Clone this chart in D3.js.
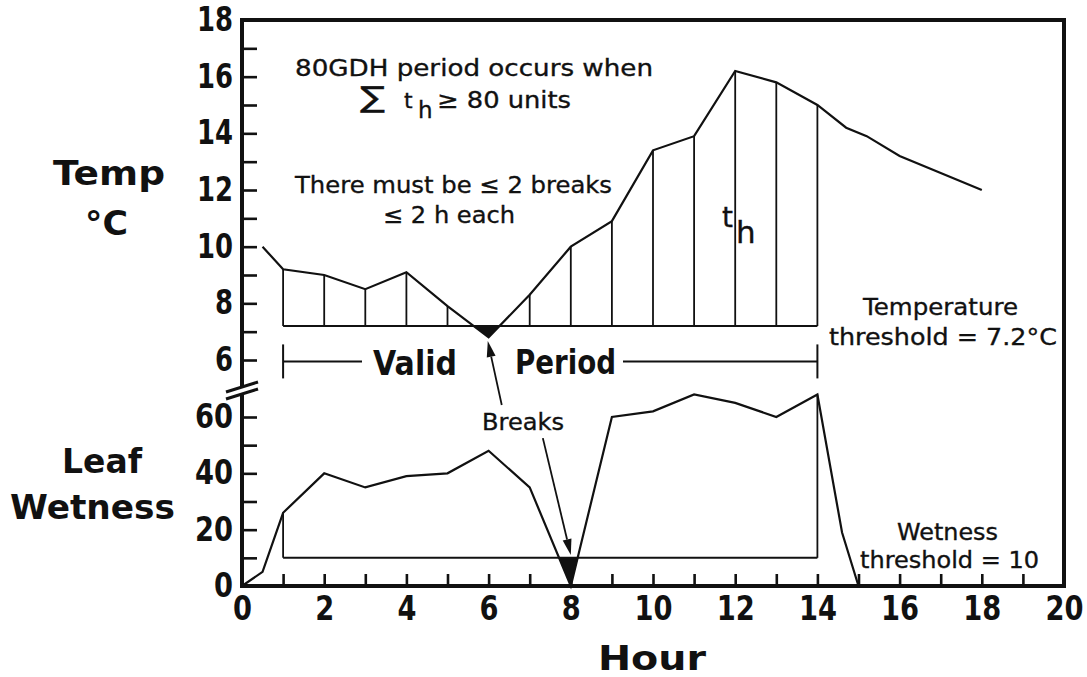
<!doctype html>
<html lang="en">
<head>
<meta charset="utf-8">
<title>80GDH period</title>
<style type="text/css">
	body { margin: 0; background-color: white; }
	svg { display: block; background-color: white; }
	text { font-family: "DejaVu Sans", Helvetica, Arial, sans-serif; fill: #111; }
	.note { font-size: 23px; stroke: #111; stroke-width: 0.35px; }
	.big { font-size: 33px; font-weight: bold; }
	.tick text {
		font-family: "Liberation Sans Narrow", "DejaVu Sans Condensed", "DejaVu Sans", sans-serif;
		font-weight: bold;
		font-size: 33px;
	}
	.tick line { stroke: #111; stroke-width: 2.6px; }
	.frame { fill: none; stroke: #111; stroke-width: 4px; }
	.curve { fill: none; stroke: #111; stroke-width: 2.2px; stroke-linejoin: miter; }
	.thresh { stroke: #111; stroke-width: 2px; }
	.drop { stroke: #111; stroke-width: 1.8px; }
	.below { fill: #111; stroke: none; }
	.bracket { stroke: #111; stroke-width: 2px; }
	.arrow { stroke: #111; stroke-width: 1.8px; }
</style>
</head>
<body>
<script src="https://cdnjs.cloudflare.com/ajax/libs/d3/7.8.5/d3.min.js"></script>
<script type="text/javascript">
// values
var tempHours = [0.5, 1, 2, 3, 4, 5, 6, 7, 8, 9, 10, 11, 12, 13, 14, 14.7, 15.2, 16, 17, 18];
var tempValues = [10.0, 9.2, 9.0, 8.5, 9.1, 7.9, 6.8, 8.3, 10.0, 10.9, 13.4, 13.9, 16.2, 15.8, 15.0, 14.2, 13.9, 13.2, 12.6, 12.0];
var wetHours = [0, 0.5, 1, 2, 3, 4, 5, 6, 7, 8, 9, 10, 11, 12, 13, 14, 14.6, 15];
var wetValues = [0, 5, 26, 40, 35, 39, 40, 48, 35, 0, 60, 62, 68, 65, 60, 68, 19, 0];
var hourTicks = [0, 2, 4, 6, 8, 10, 12, 14, 16, 18, 20];
var tempTicks = [6, 8, 10, 12, 14, 16, 18];
var wetTicks = [0, 20, 40, 60];
var tempThreshold = 7.2;
var wetThreshold = 10;
var periodStart = 1, periodEnd = 14;

var fullwidth = 1087, fullheight = 677;
var plotLeft = 242, plotRight = 1064, plotTop = 20, plotBottom = 586;

var xScale = d3.scaleLinear().domain([0, 20]).range([plotLeft, plotRight]);
var yTemp = d3.scaleLinear().domain([6, 18]).range([360, plotTop]);
var yWet = d3.scaleLinear().domain([0, 60]).range([plotBottom, 417]);

var tempData = tempHours.map(function(h, i) { return { h: h, v: tempValues[i] }; });
var wetData = wetHours.map(function(h, i) { return { h: h, v: wetValues[i] }; });

var svg = d3.select("body").append("svg")
	.attr("width", fullwidth)
	.attr("height", fullheight);

function noDomain(g) { g.select(".domain").remove(); }
// narrow, condensed-looking digits like the printed figure
function narrow(per) {
	return function(g) {
		g.selectAll(".tick text")
			.attr("textLength", function(d) { return String(d).length * per; })
			.attr("lengthAdjust", "spacingAndGlyphs");
	};
}

// ---- axes (labels and inward ticks)
svg.append("g").attr("transform", "translate(0," + plotBottom + ")")
	.call(d3.axisBottom(xScale).tickValues(hourTicks).tickSize(0).tickPadding(11))
	.call(noDomain).call(narrow(19));
svg.append("g").attr("transform", "translate(0," + plotBottom + ")")
	.call(d3.axisBottom(xScale).tickValues(d3.range(1, 20)).tickSize(-12).tickFormat("")).call(noDomain);

svg.append("g").attr("transform", "translate(" + plotLeft + ",0)")
	.call(d3.axisLeft(yTemp).tickValues(tempTicks).tickSize(0).tickPadding(9))
	.call(noDomain).call(narrow(18));
svg.append("g").attr("transform", "translate(" + plotLeft + ",0)")
	.call(d3.axisLeft(yTemp).tickValues(d3.range(6, 18)).tickSize(-15).tickFormat("")).call(noDomain);

svg.append("g").attr("transform", "translate(" + plotLeft + ",0)")
	.call(d3.axisLeft(yWet).tickValues(wetTicks).tickSize(0).tickPadding(9))
	.call(noDomain).call(narrow(19));
svg.append("g").attr("transform", "translate(" + plotLeft + ",0)")
	.call(d3.axisLeft(yWet).tickValues([10, 20, 30, 40, 50, 60]).tickSize(-15).tickFormat("")).call(noDomain);

// ---- frame with axis break
svg.append("path").attr("class", "frame")
	.attr("d", "M" + plotLeft + ",387V" + plotTop + "H" + plotRight + "V" + plotBottom + "H" + plotLeft + "V394");
svg.append("line").attr("class", "frame").style("stroke-width", "3px")
	.attr("x1", plotLeft - 16).attr("y1", 392).attr("x2", plotLeft + 16).attr("y2", 382);
svg.append("line").attr("class", "frame").style("stroke-width", "3px")
	.attr("x1", plotLeft - 16).attr("y1", 399).attr("x2", plotLeft + 16).attr("y2", 389);

// ---- clip regions for the parts below threshold
var defs = svg.append("defs");
defs.append("clipPath").attr("id", "clipT").append("rect")
	.attr("x", xScale(periodStart)).attr("width", xScale(periodEnd) - xScale(periodStart))
	.attr("y", yTemp(tempThreshold)).attr("height", 60);
defs.append("clipPath").attr("id", "clipW").append("rect")
	.attr("x", xScale(periodStart)).attr("width", xScale(periodEnd) - xScale(periodStart))
	.attr("y", yWet(wetThreshold)).attr("height", 40);

function inPeriod(d) { return d.h >= periodStart && d.h <= periodEnd; }

// ---- temperature
svg.append("path").attr("class", "below").attr("clip-path", "url(#clipT)")
	.attr("d", d3.area()
		.x(function(d) { return xScale(d.h); })
		.y0(yTemp(tempThreshold))
		.y1(function(d) { return yTemp(d.v); })(tempData.filter(inPeriod)));

svg.selectAll("line.tdrop")
	.data(tempData.filter(function(d) { return inPeriod(d) && d.v > tempThreshold && d.h % 1 === 0; }))
	.enter().append("line").attr("class", "drop")
	.attr("x1", function(d) { return xScale(d.h); })
	.attr("x2", function(d) { return xScale(d.h); })
	.attr("y1", function(d) { return yTemp(d.v); })
	.attr("y2", yTemp(tempThreshold));

svg.append("line").attr("class", "thresh")
	.attr("x1", xScale(periodStart)).attr("x2", xScale(periodEnd))
	.attr("y1", yTemp(tempThreshold)).attr("y2", yTemp(tempThreshold));

svg.append("path").attr("class", "curve")
	.attr("d", d3.line()
		.x(function(d) { return xScale(d.h); })
		.y(function(d) { return yTemp(d.v); })(tempData));

// ---- leaf wetness
svg.append("path").attr("class", "below").attr("clip-path", "url(#clipW)")
	.attr("d", d3.area()
		.x(function(d) { return xScale(d.h); })
		.y0(yWet(wetThreshold))
		.y1(function(d) { return yWet(d.v); })(wetData.filter(inPeriod)));

svg.selectAll("line.wdrop")
	.data(wetData.filter(function(d) { return d.h === periodStart || d.h === periodEnd; }))
	.enter().append("line").attr("class", "drop")
	.attr("x1", function(d) { return xScale(d.h); })
	.attr("x2", function(d) { return xScale(d.h); })
	.attr("y1", function(d) { return yWet(d.v); })
	.attr("y2", yWet(wetThreshold));

svg.append("line").attr("class", "thresh")
	.attr("x1", xScale(periodStart)).attr("x2", xScale(periodEnd))
	.attr("y1", yWet(wetThreshold)).attr("y2", yWet(wetThreshold));

svg.append("path").attr("class", "curve")
	.attr("d", d3.line()
		.x(function(d) { return xScale(d.h); })
		.y(function(d) { return yWet(d.v); })(wetData));

// ---- valid period bracket
var by = yTemp(5.95);
var valid = svg.append("text").attr("class", "big").attr("x", 373).attr("y", 375)
	.attr("textLength", 84).attr("lengthAdjust", "spacingAndGlyphs").text("Valid");
var period = svg.append("text").attr("class", "big").attr("x", 515).attr("y", 374)
	.attr("textLength", 101).attr("lengthAdjust", "spacingAndGlyphs").text("Period");
var vb = valid.node().getBBox(), pb = period.node().getBBox();
svg.append("line").attr("class", "bracket")
	.attr("x1", xScale(periodStart)).attr("x2", vb.x - 11).attr("y1", by).attr("y2", by);
svg.append("line").attr("class", "bracket")
	.attr("x1", pb.x + pb.width + 7).attr("x2", xScale(periodEnd)).attr("y1", by).attr("y2", by);
[periodStart, periodEnd].forEach(function(h) {
	svg.append("line").attr("class", "bracket")
		.attr("x1", xScale(h)).attr("x2", xScale(h))
		.attr("y1", yTemp(6.55)).attr("y2", yTemp(5.35));
});

// ---- arrows to the breaks
function arrow(x1, y1, x2, y2) {
	var dx = x2 - x1, dy = y2 - y1, L = Math.sqrt(dx * dx + dy * dy);
	var ux = dx / L, uy = dy / L, hl = 16, hw = 4.5;
	var bx = x2 - ux * hl, by2 = y2 - uy * hl;
	svg.append("line").attr("class", "arrow")
		.attr("x1", x1).attr("y1", y1).attr("x2", bx).attr("y2", by2);
	svg.append("path").attr("fill", "#111")
		.attr("d", "M" + x2 + "," + y2 +
			"L" + (bx - uy * hw) + "," + (by2 + ux * hw) +
			"L" + (bx + uy * hw) + "," + (by2 - ux * hw) + "Z");
}
arrow(xScale(6.32), yTemp(4.41), xScale(5.98), yTemp(6.67));
arrow(xScale(7.32), yWet(52.5), xScale(8.0), yWet(11));

// ---- annotations
function note(x, y, len, s, size) {
	var t = svg.append("text").attr("class", "note").attr("x", x).attr("y", y).text(s);
	if (len) t.attr("textLength", len).attr("lengthAdjust", "spacingAndGlyphs");
	if (size) t.style("font-size", size + "px");
	return t;
}
note(295, 76, 358, "80GDH period occurs when");
note(360, 107, 25, "\u2211", 29);
note(404, 108, null, "t", 22);
note(418, 118, null, "h", 23);
note(437, 108, 134, "\u2265 80 units");
note(295, 193, 317, "There must be \u2264 2 breaks");
note(383, 223, 132, "\u2264 2 h each");
note(722, 227, null, "t", 28);
note(736, 243, null, "h", 31);
note(863, 315, 155, "Temperature");
note(829, 345, 228, "threshold = 7.2\u00b0C");
note(897, 540, 101, "Wetness");
note(860, 568, 179, "threshold = 10");
note(482, 430, 82, "Breaks");

function big(x, y, len, s) {
	svg.append("text").attr("class", "big").attr("x", x).attr("y", y)
		.attr("textLength", len).attr("lengthAdjust", "spacingAndGlyphs").text(s);
}
big(53, 185, 112, "Temp");
big(85, 235, 43, "\u00b0C");
big(62, 473, 80, "Leaf");
big(10, 519, 165, "Wetness");
big(598, 670, 108, "Hour");
</script>
</body>
</html>
